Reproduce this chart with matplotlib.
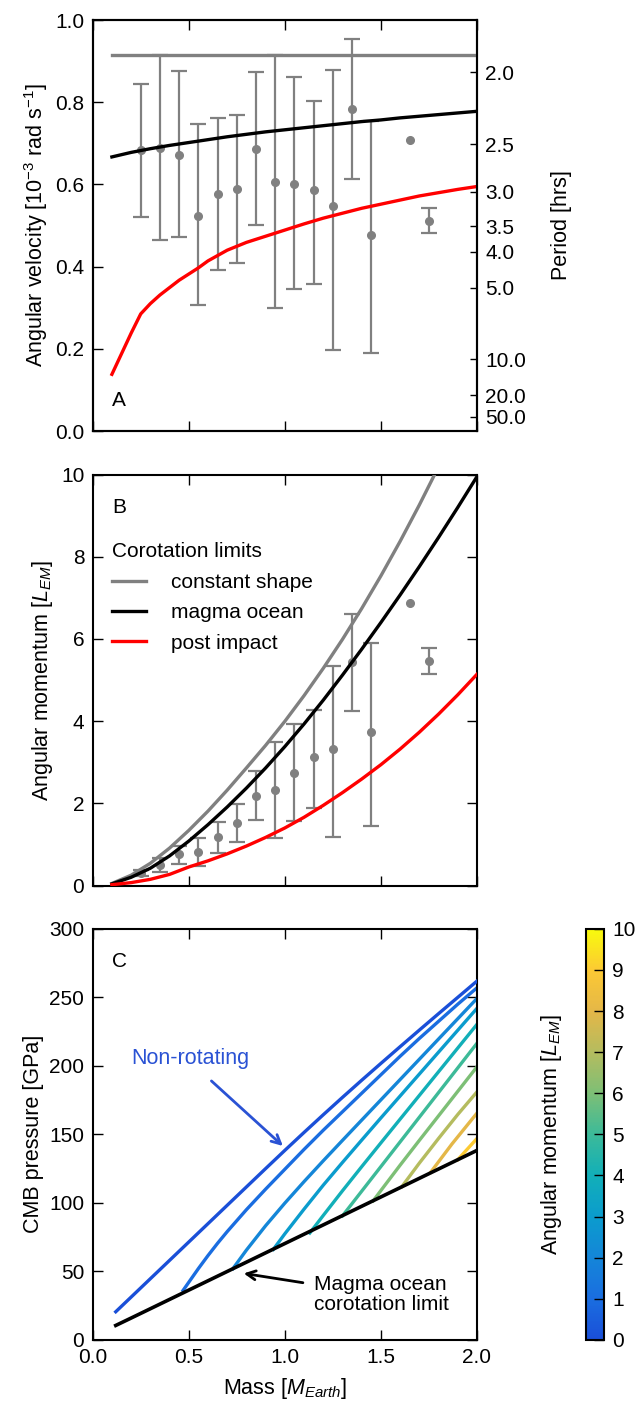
import numpy as np
import matplotlib
matplotlib.use('Agg')
import matplotlib.pyplot as plt
from matplotlib.colors import LinearSegmentedColormap, Normalize
from matplotlib.cm import ScalarMappable

plt.rcParams['font.family'] = ['Liberation Sans', 'DejaVu Sans']
plt.rcParams['mathtext.fontset'] = 'custom'
plt.rcParams['mathtext.rm'] = 'Liberation Sans'
plt.rcParams['mathtext.it'] = 'Liberation Sans:italic'
plt.rcParams['font.size'] = 15
plt.rcParams['axes.labelsize'] = 15.5
plt.rcParams['axes.linewidth'] = 1.5
for a in ('xtick', 'ytick'):
    plt.rcParams[a + '.direction'] = 'in'
    plt.rcParams[a + '.major.size'] = 7
    plt.rcParams[a + '.major.width'] = 1.0
    plt.rcParams[a + '.major.pad'] = 6

# --- simulated planets (points with ranges), shared mass bins
pt_mass = [0.25, 0.35, 0.45, 0.55, 0.65, 0.75, 0.85, 0.95, 1.05, 1.15, 1.25, 1.35, 1.45, 1.65, 1.75]
has_err = [1, 1, 1, 1, 1, 1, 1, 1, 1, 1, 1, 1, 1, 0, 1]

# panel A: angular velocity [1e-3 rad/s]
om_mid = [0.683, 0.688, 0.671, 0.524, 0.576, 0.588, 0.687, 0.606, 0.600, 0.587, 0.547, 0.783, 0.477, 0.707, 0.512]
om_lo = [0.522, 0.466, 0.472, 0.307, 0.391, 0.410, 0.502, 0.299, 0.345, 0.357, 0.198, 0.614, 0.189, 0.707, 0.482]
om_hi = [0.844, 0.915, 0.876, 0.746, 0.762, 0.768, 0.873, 0.915, 0.862, 0.802, 0.878, 0.954, 0.754, 0.707, 0.543]

# panel B: angular momentum [L_EM]
L_mid = [0.30, 0.50, 0.76, 0.82, 1.19, 1.51, 2.19, 2.33, 2.73, 3.12, 3.32, 5.43, 3.73, 6.87, 5.47]
L_lo = [0.22, 0.34, 0.52, 0.47, 0.80, 1.07, 1.59, 1.15, 1.57, 1.89, 1.19, 4.25, 1.46, 6.87, 5.14]
L_hi = [0.38, 0.66, 0.96, 1.16, 1.55, 1.98, 2.79, 3.50, 3.92, 4.27, 5.35, 6.60, 5.89, 6.87, 5.79]

# corotation limit curves
lim_mass = [0.1, 0.2, 0.3, 0.4, 0.5, 0.6, 0.7, 0.8, 0.9, 1.0, 1.1, 1.2, 1.3, 1.4, 1.5, 1.6, 1.7, 1.8, 1.9, 2.0]
om_const = [0.915] * 20
om_magma = [0.667, 0.678, 0.687, 0.695, 0.702, 0.709, 0.716, 0.722, 0.728, 0.733,
            0.738, 0.743, 0.748, 0.753, 0.757, 0.762, 0.766, 0.770, 0.774, 0.778]
om_post_mass = [0.1, 0.2, 0.25, 0.3, 0.35, 0.45, 0.55, 0.6, 0.7, 0.8, 0.9, 1.0, 1.1, 1.2,
                1.3, 1.4, 1.5, 1.6, 1.7, 1.8, 1.9, 2.0]
om_post = [0.138, 0.238, 0.285, 0.31, 0.331, 0.367, 0.397, 0.414, 0.44, 0.459, 0.474, 0.489,
           0.504, 0.518, 0.53, 0.542, 0.552, 0.562, 0.572, 0.580, 0.588, 0.595]
L_const = [0.05, 0.25, 0.54, 0.91, 1.34, 1.81, 2.32, 2.86, 3.41, 3.995, 4.62, 5.285, 5.99,
           6.74, 7.535, 8.375, 9.26, 10.19, 11.165, 12.185]
L_magma = [0.04, 0.2, 0.42, 0.72, 1.08, 1.48, 1.91, 2.37, 2.86, 3.38, 3.93, 4.51, 5.12,
           5.75, 6.40, 7.07, 7.76, 8.47, 9.20, 9.95]
L_post = [0.02, 0.07, 0.15, 0.27, 0.45, 0.60, 0.77, 0.96, 1.17, 1.40, 1.66, 1.95, 2.26,
          2.59, 2.94, 3.32, 3.73, 4.17, 4.64, 5.14]

# panel C: CMB pressure [GPa]
c_mass = [0.12, 0.2, 0.3, 0.4, 0.5, 0.6, 0.7, 0.8, 0.9, 1.0, 1.1, 1.2, 1.3, 1.4, 1.5, 1.6, 1.7, 1.8, 1.9, 2.0]
p_magma = [10.5, 15.9, 22.7, 29.5, 36.3, 43.1, 49.9, 56.7, 63.5, 70.3, 77.1, 83.9, 90.7,
           97.5, 104.3, 111.1, 117.9, 124.7, 131.5, 138.3]
p_nonrot = [20.5, 31.2, 44.6, 58, 71.4, 84.8, 98.2, 111.6, 125, 138.3, 151.4, 164.3, 177,
            189.5, 201.8, 214, 226.1, 238.1, 250, 261.9]
L_levels = [1, 2, 3, 4, 5, 6, 7, 8, 9]
p_L_mass = [
    [0.47, 0.55, 0.6, 0.65, 0.7, 0.8, 0.9, 1.0, 1.1, 1.2, 1.3, 1.4, 1.5, 1.6, 1.7, 1.8, 1.9, 2.0],
    [0.73, 0.8, 0.9, 1.0, 1.1, 1.2, 1.3, 1.4, 1.5, 1.6, 1.7, 1.8, 1.9, 2.0],
    [0.94, 1.0, 1.1, 1.2, 1.3, 1.4, 1.5, 1.6, 1.7, 1.8, 1.9, 2.0],
    [1.13, 1.2, 1.3, 1.4, 1.5, 1.6, 1.7, 1.8, 1.9, 2.0],
    [1.3, 1.4, 1.5, 1.6, 1.7, 1.8, 1.9, 2.0],
    [1.46, 1.5, 1.6, 1.7, 1.8, 1.9, 2.0],
    [1.61, 1.7, 1.8, 1.9, 2.0],
    [1.76, 1.87, 2.0],
    [1.9, 2.0],
]
p_L = [
    [36, 52, 61.5, 70.5, 79, 95, 110, 124.5, 139, 153, 166.5, 180, 193.5, 207, 220, 232.5, 245, 257],
    [52, 65.5, 83.3, 99.8, 115.5, 130.7, 145.6, 160.4, 175.2, 190, 204.8, 219.6, 234.4, 249.2],
    [66, 77.4, 95.4, 112.9, 129.5, 145.8, 162, 178, 194, 210, 226, 242],
    [78, 90.8, 108.8, 126.4, 143.8, 161.1, 178.4, 195.7, 213, 230.3],
    [90.5, 108.5, 126.5, 144.5, 162.5, 180.5, 198.5, 216.5],
    [101.5, 109, 127.5, 145.6, 163.5, 181.4, 199.3],
    [112, 129, 147, 164.5, 181],
    [122.5, 143, 165.5],
    [131.5, 147],
]
period_ticks = [2.0, 2.5, 3.0, 3.5, 4.0, 5.0, 10.0, 20.0, 50.0]

grey = '#808080'
cmap = LinearSegmentedColormap.from_list('parulaish', [
    '#1a4fd8', '#1a6ee0', '#1486d8', '#0b9ccd', '#12afb8', '#3cba99',
    '#7dbf76', '#b4bc5f', '#e4b748', '#fcc934', '#f8fa0d'])
norm = Normalize(0, 10)


def errpts(ax, mid, lo, hi):
    m = np.array(pt_mass)
    mid, lo, hi = np.array(mid), np.array(lo), np.array(hi)
    e = np.array(has_err) == 1
    ax.errorbar(m[e], mid[e], yerr=[mid[e] - lo[e], hi[e] - mid[e]], fmt='none',
                ecolor=grey, elinewidth=1.6, capsize=5.5, capthick=1.6, zorder=2)
    ax.plot(m, mid, 'o', color=grey, ms=5.5, mec=grey, zorder=3)


def frame(ax):
    ax.set_xlim(0, 2)
    ax.tick_params(top=True, right=True)
    ax.set_xticks([0.0, 0.5, 1.0, 1.5, 2.0])


fig = plt.figure(figsize=(6.41, 14.04), dpi=100)
axA = fig.add_axes([0.1446, 0.693, 0.5995, 0.2927])
axB = fig.add_axes([0.1446, 0.3693, 0.5995, 0.2927])
axC = fig.add_axes([0.1446, 0.0457, 0.5995, 0.2927])
cax = fig.add_axes([0.9142, 0.0457, 0.028, 0.2927])

# ---- A
frame(axA)
axA.tick_params(right=False)
axA.plot(lim_mass, om_const, color=grey, lw=2.4, zorder=4)
axA.plot(lim_mass, om_magma, color='black', lw=2.4, zorder=4)
axA.plot(om_post_mass, om_post, color='red', lw=2.4, zorder=4)
errpts(axA, om_mid, om_lo, om_hi)
axA.set_ylim(0, 1)
axA.set_yticks(np.arange(0, 1.01, 0.2))
axA.yaxis.set_major_formatter('{x:.1f}')
axA.set_xticklabels([])
axA.set_ylabel(r'Angular velocity [10$^{-3}$ rad s$^{-1}$]')
axA.text(0.1, 0.075, 'A', fontsize=15, va='center', ha='left')
axR = axA.twinx()
axR.set_ylim(0, 1)
axR.set_yticks([2 * np.pi / (3.6 * p) for p in period_ticks])
axR.set_yticklabels(['%.1f' % p for p in period_ticks])
axR.tick_params(direction='in', length=5)
axR.set_ylabel('Period [hrs]', labelpad=18)

# ---- B
frame(axB)
axB.plot(lim_mass, L_const, color=grey, lw=2.4, label='constant shape', zorder=4)
axB.plot(lim_mass, L_magma, color='black', lw=2.4, label='magma ocean', zorder=4)
axB.plot(lim_mass, L_post, color='red', lw=2.4, label='post impact', zorder=4)
errpts(axB, L_mid, L_lo, L_hi)
axB.set_ylim(0, 10)
axB.set_yticks([0, 2, 4, 6, 8, 10])
axB.set_xticklabels([])
axB.set_ylabel(r'Angular momentum [$L_{EM}$]')
axB.text(0.1, 9.2, 'B', fontsize=15, va='center', ha='left')
leg = axB.legend(loc='upper left', bbox_to_anchor=(0.05, 0.835), frameon=False,
                 title='Corotation limits', fontsize=15, title_fontsize=15,
                 handlelength=1.63, handletextpad=1.2, labelspacing=0.55,
                 borderpad=0, borderaxespad=0)
leg._legend_box.align = 'left'

# ---- C
frame(axC)
axC.plot(c_mass, p_nonrot, color=cmap(norm(0)), lw=2.4, zorder=3)
for Lv, ms, ps in zip(L_levels, p_L_mass, p_L):
    axC.plot(ms, ps, color=cmap(norm(Lv)), lw=2.4, zorder=2)
axC.plot(c_mass, p_magma, color='black', lw=2.6, zorder=4)
axC.set_ylim(0, 300)
axC.set_yticks(np.arange(0, 301, 50))
axC.xaxis.set_major_formatter('{x:.1f}')
axC.set_xlabel(r'Mass [$M_{Earth}$]', labelpad=6)
axC.set_ylabel('CMB pressure [GPa]')
axC.text(0.1, 276.5, 'C', fontsize=15, va='center', ha='left')
blue = '#2a52d4'
axC.text(0.2, 205.5, 'Non-rotating', color=blue, fontsize=15.5, va='center', ha='left')
axC.annotate('', xy=(0.99, 141.5), xytext=(0.618, 189),
             arrowprops=dict(arrowstyle='->', color=blue, lw=2, mutation_scale=16,
                             shrinkA=0, shrinkB=0))
axC.text(1.15, 32.9, 'Magma ocean\ncorotation limit', fontsize=15, va='center',
         ha='left', linespacing=1.05)
axC.annotate('', xy=(0.786, 48.5), xytext=(1.094, 41.7),
             arrowprops=dict(arrowstyle='->', color='black', lw=2, mutation_scale=16,
                             shrinkA=0, shrinkB=0))

sm = ScalarMappable(norm=norm, cmap=cmap)
cb = fig.colorbar(sm, cax=cax, ticks=range(0, 11))
cb.outline.set_linewidth(1.5)
cax.tick_params(direction='in', length=7, width=1.0, right=True)
cax.yaxis.set_label_position('left')
cb.set_label(r'Angular momentum [$L_{EM}$]', labelpad=16)

fig.savefig('out.png', dpi=100)
